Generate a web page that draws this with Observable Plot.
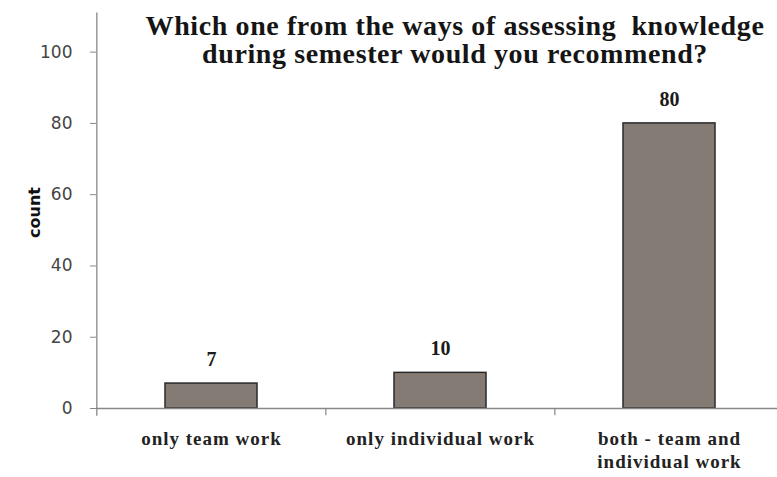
<!DOCTYPE html>
<html>
<head>
<meta charset="utf-8">
<script src="https://cdn.jsdelivr.net/npm/d3@7"></script>
<script src="https://cdn.jsdelivr.net/npm/@observablehq/plot@0.6"></script>
<style>
  html, body { margin: 0; padding: 0; background: #ffffff; }
  #wrap { position: relative; width: 777px; height: 477px; }
  #title {
    position: absolute; left: 130px; width: 650px; top: 12px;
    text-align: center; font-family: "Liberation Serif", serif; font-weight: bold;
    font-size: 28px; line-height: 28px; letter-spacing: 0.6px; color: #151515; z-index: 2;
  }
  svg { overflow: visible; }
  g[aria-label="x-axis tick label"] text { letter-spacing: 1px; }
</style>
</head>
<body>
<div id="wrap">
  <div id="title">Which one from the ways of assessing&nbsp; knowledge<br>during semester would you recommend?</div>
  <div id="chart"></div>
</div>
<script>
const categories = ["only team work", "only individual work", "both - team and\nindividual work"];
const counts = [7, 10, 80];
const yTicks = [0, 20, 40, 60, 80, 100];
const yLabel = "count";

const data = categories.map((c, i) => ({category: c, count: counts[i]}));

const W = 777, H = 477;
const mL = 96, mR = -7, mT = 16, mB = 69;
const bandW = (W - mL - mR) / categories.length;

const chart = Plot.plot({
  width: W,
  height: H,
  marginLeft: mL,
  marginRight: mR,
  marginTop: mT,
  marginBottom: mB,
  style: {background: "transparent", overflow: "visible"},
  x: {domain: categories, padding: 0.6, paddingOuter: 0.3, align: 0.5},
  y: {domain: [0, 110]},
  marks: [
    Plot.barY(data, {x: "category", y: "count", fill: "#857b75", stroke: "#2a2a2a", strokeWidth: 1.5}),
    Plot.text(data, {x: "category", y: "count", text: d => String(d.count), dy: -24,
      fontFamily: "Liberation Serif", fontWeight: "bold", fontSize: 20, fill: "#1a1a1a"}),
    Plot.ruleY([0], {stroke: "#888", strokeWidth: 1.3}),
    Plot.ruleX([categories[0]], {x: d => d, y1: -2.2, y2: 111, dx: -bandW / 2, stroke: "#888", strokeWidth: 1.3}),
    Plot.ruleX(categories.slice(1), {x: d => d, y1: 0, y2: -2, dx: -bandW / 2, stroke: "#888", strokeWidth: 1.2}),
    Plot.axisY({ticks: yTicks, tickSize: 6, tickPadding: 18, fontSize: 17, fontFamily: "DejaVu Sans",
      fill: "#444", stroke: "#888", label: null}),
    Plot.text([yLabel], {frameAnchor: "left", textAnchor: "middle", dx: -62, rotate: -90, fontSize: 16,
      fontWeight: "bold", fontFamily: "DejaVu Sans", fill: "#111"}),
    Plot.axisX({tickSize: 0, tickPadding: 19, fontSize: 19, fontWeight: "bold", fontFamily: "Liberation Serif",
      fill: "#222", label: null, lineHeight: 1.26})
  ]
});
document.getElementById("chart").appendChild(chart);
</script>
</body>
</html>
